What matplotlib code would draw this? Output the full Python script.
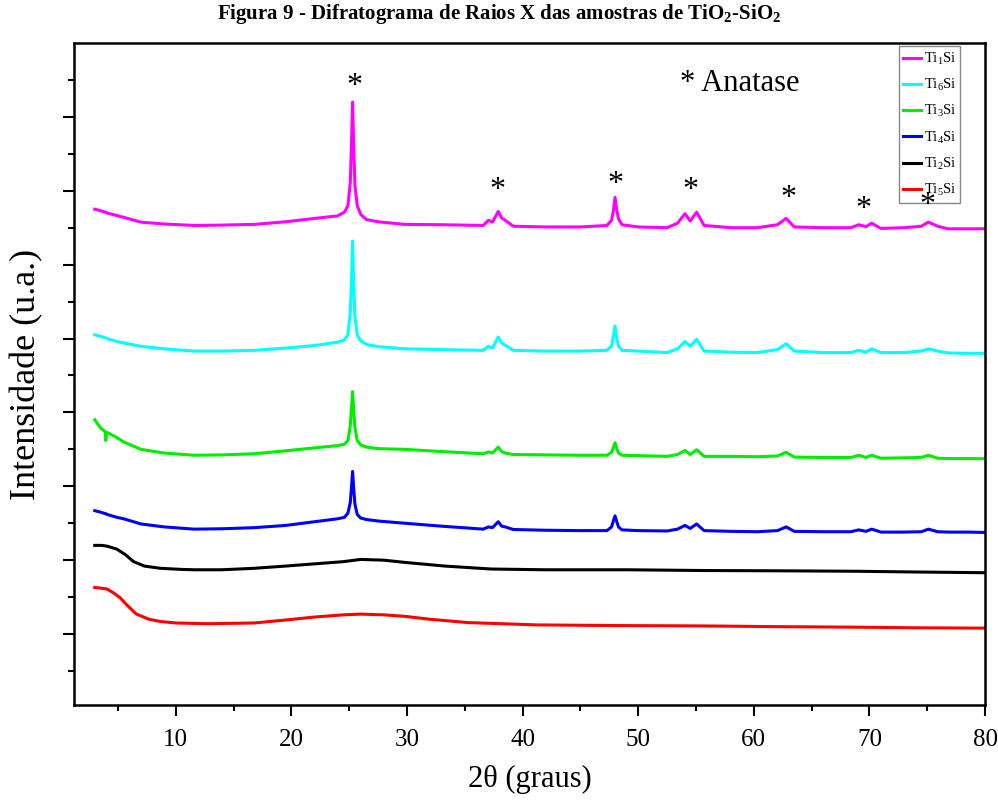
import matplotlib
matplotlib.use('Agg')
import matplotlib.pyplot as plt
import numpy as np

plt.rcParams['font.family'] = ['Liberation Serif', 'DejaVu Serif']
plt.rcParams['mathtext.fontset'] = 'custom'
plt.rcParams['mathtext.rm'] = 'Liberation Serif'
plt.rcParams['mathtext.bf'] = 'Liberation Serif:bold'
plt.rcParams['mathtext.default'] = 'regular'

# 2theta grid for the crystalline samples
two_theta = [3.0, 3.5, 3.9, 3.95, 4.05, 4.9, 5.5, 7.0, 9.0, 11.6, 14.0, 16.8, 19.5, 22.0,
             24.0, 24.6, 24.9, 25.1, 25.2, 25.3, 25.4, 25.5, 25.7, 26.0, 26.5, 27.5, 29.8,
             33.0, 36.6, 37.05, 37.4, 37.9, 38.2, 38.5, 39.2, 42.0, 45.0, 47.3, 47.7, 47.85,
             48.0, 48.15, 48.3, 48.6, 50.0, 52.5, 53.4, 54.05, 54.5, 55.06, 55.7, 58.0, 60.3,
             62.05, 62.8, 63.5, 66.0, 68.4, 69.07, 69.7, 70.2, 71.0, 73.0, 74.5, 75.1, 75.9,
             76.8, 78.5, 80.0]

ti1si = [6.75, 6.73, 6.71, 6.71, 6.70, 6.665, 6.64, 6.575, 6.55, 6.53, 6.535, 6.545, 6.58, 6.625,
         6.66, 6.71, 6.80, 7.11, 7.61, 8.20, 7.58, 7.08, 6.80, 6.68, 6.61, 6.58, 6.545,
         6.54, 6.53, 6.60, 6.575, 6.72, 6.63, 6.60, 6.52, 6.51, 6.51, 6.53, 6.60, 6.72,
         6.91, 6.74, 6.62, 6.54, 6.51, 6.50, 6.56, 6.69, 6.59, 6.71, 6.53, 6.50, 6.50,
         6.54, 6.625, 6.51, 6.50, 6.50, 6.54, 6.515, 6.56, 6.49, 6.50, 6.52, 6.575, 6.52,
         6.485, 6.485, 6.485]

ti6si = [5.05, 5.03, 5.01, 5.01, 5.00, 4.96, 4.94, 4.895, 4.86, 4.83, 4.83, 4.84, 4.87, 4.905,
         4.95, 4.98, 5.05, 5.35, 5.75, 6.32, 5.72, 5.30, 5.05, 4.97, 4.92, 4.89, 4.86,
         4.85, 4.84, 4.895, 4.87, 5.02, 4.94, 4.91, 4.84, 4.83, 4.83, 4.84, 4.90, 5.02,
         5.17, 5.00, 4.90, 4.84, 4.83, 4.81, 4.86, 4.96, 4.895, 4.99, 4.83, 4.815, 4.81,
         4.85, 4.93, 4.83, 4.81, 4.81, 4.84, 4.815, 4.86, 4.81, 4.81, 4.83, 4.86, 4.83,
         4.805, 4.80, 4.80]

ti3si = [3.90, 3.79, 3.74, 3.62, 3.73, 3.66, 3.60, 3.50, 3.45, 3.42, 3.425, 3.44, 3.48, 3.52,
         3.55, 3.57, 3.62, 3.82, 4.05, 4.28, 4.02, 3.80, 3.62, 3.56, 3.53, 3.51, 3.50,
         3.47, 3.44, 3.465, 3.45, 3.53, 3.47, 3.45, 3.43, 3.425, 3.42, 3.42, 3.46, 3.52,
         3.59, 3.51, 3.45, 3.42, 3.415, 3.405, 3.43, 3.485, 3.43, 3.495, 3.405, 3.405, 3.40,
         3.41, 3.46, 3.395, 3.39, 3.39, 3.42, 3.39, 3.42, 3.38, 3.385, 3.39, 3.42, 3.38,
         3.375, 3.375, 3.373]

ti4si = [2.67, 2.65, 2.63, 2.63, 2.62, 2.58, 2.56, 2.49, 2.45, 2.42, 2.425, 2.44, 2.47, 2.52,
         2.56, 2.58, 2.64, 2.78, 2.98, 3.20, 2.96, 2.76, 2.62, 2.57, 2.55, 2.53, 2.50,
         2.46, 2.42, 2.45, 2.44, 2.52, 2.46, 2.45, 2.415, 2.405, 2.40, 2.40, 2.45, 2.53,
         2.60, 2.52, 2.45, 2.41, 2.40, 2.395, 2.42, 2.47, 2.43, 2.49, 2.40, 2.39, 2.385,
         2.40, 2.45, 2.39, 2.385, 2.385, 2.41, 2.39, 2.42, 2.38, 2.38, 2.385, 2.42, 2.385,
         2.38, 2.38, 2.375]

# amorphous samples
two_theta_ti2 = [3.0, 3.6, 4.05, 4.9, 5.6, 6.36, 7.3, 8.67, 10.5, 11.6, 14.0, 16.8, 19.5, 22.0,
                 24.5, 26.0, 28.0, 29.8, 33.3, 37.3, 42.0, 49.1, 55.6, 62.2, 68.8, 74.0, 80.0]
ti2si = [2.20, 2.20, 2.19, 2.15, 2.08, 1.98, 1.92, 1.89, 1.875, 1.87, 1.87, 1.89, 1.92, 1.95,
         1.98, 2.01, 2.00, 1.97, 1.92, 1.88, 1.87, 1.87, 1.86, 1.856, 1.85, 1.84, 1.83]

two_theta_ti5 = [3.0, 3.6, 4.05, 4.6, 5.2, 5.8, 6.6, 7.7, 8.67, 10.0, 12.8, 16.8, 19.5, 22.0,
                 24.5, 26.0, 28.0, 29.8, 32.0, 35.3, 41.2, 48.0, 55.6, 62.2, 68.8, 74.0, 80.0]
ti5si = [1.63, 1.62, 1.61, 1.56, 1.49, 1.39, 1.27, 1.20, 1.17, 1.15, 1.14, 1.15, 1.19, 1.23,
         1.26, 1.27, 1.26, 1.24, 1.20, 1.155, 1.124, 1.115, 1.11, 1.10, 1.093, 1.085, 1.08]

# anatase marks (position, height)
star_x = [25.5, 37.8, 48.0, 54.5, 63.0, 69.5, 75.0]
star_y = [8.41, 7.00, 7.09, 7.00, 6.89, 6.74, 6.80]

fig = plt.figure(figsize=(9.98, 8.08), dpi=100)
ax = fig.add_axes([0.0741, 0.1275, 0.9129, 0.8193])

ax.plot(two_theta, ti1si, color='#ff00ff', lw=2.2, label='Ti$_1$Si')
ax.plot(two_theta, ti6si, color='#00ffff', lw=2.2, label='Ti$_6$Si')
ax.plot(two_theta, ti3si, color='#00ee00', lw=2.2, label='Ti$_3$Si')
ax.plot(two_theta, ti4si, color='#0000ff', lw=2.2, label='Ti$_4$Si')
ax.plot(two_theta_ti2, ti2si, color='black', lw=2.2, label='Ti$_2$Si')
ax.plot(two_theta_ti5, ti5si, color='#ff0000', lw=2.2, label='Ti$_5$Si')

for sx, sy in zip(star_x, star_y):
    ax.text(sx, sy, '*', fontsize=23, ha='center', va='center', zorder=10)
ax.text(53.6, 8.45, '* Anatase', fontsize=22, ha='left', va='center')

ax.set_xlim(1.2, 80)
ax.set_ylim(0.04, 9.0)
ax.set_xticks(np.arange(10, 81, 10))
ax.set_xticks(np.arange(5, 81, 5), minor=True)
ax.set_yticks(np.arange(1, 9, 1))
ax.set_yticks(np.arange(0.5, 9, 0.5), minor=True)
ax.set_yticklabels([])
ax.tick_params(which='major', direction='out', length=8, width=1.5, labelsize=18, pad=9)
ax.tick_params(which='minor', direction='out', length=4.5, width=1.5)
for sp in ax.spines.values():
    sp.set_linewidth(1.8)

ax.set_xlabel('2θ (graus)', fontsize=22, labelpad=10)
ax.set_ylabel('Intensidade (u.a.)', fontsize=26, labelpad=5)

leg = ax.legend(loc='upper right', bbox_to_anchor=(0.973, 0.995), fontsize=10.5,
                handlelength=1.2, handletextpad=0.2, labelspacing=0.7,
                borderpad=0.3, borderaxespad=0.0, fancybox=False, framealpha=1)
leg.get_frame().set_edgecolor('#888888')
leg.get_frame().set_linewidth(1.0)

fig.text(0.5, 0.998, r'Figura 9 - Difratograma de Raios X das amostras de TiO$_\mathbf{2}$-SiO$_\mathbf{2}$',
         ha='center', va='top', fontsize=15, fontweight='bold')

fig.savefig('out.png', dpi=100)
